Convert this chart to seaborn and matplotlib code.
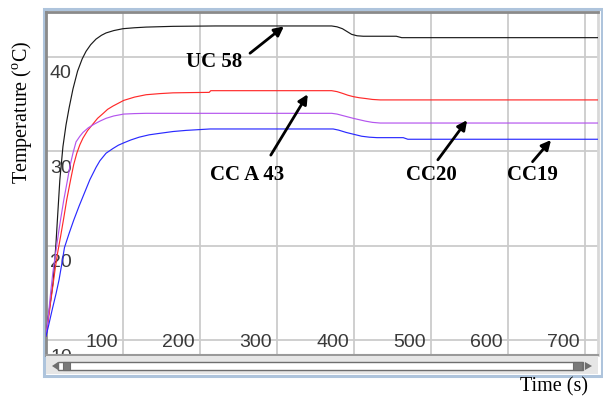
import numpy as np
import pandas as pd
import matplotlib
matplotlib.use("Agg")
import matplotlib.pyplot as plt
import matplotlib.transforms as mtransforms
from matplotlib.patches import Rectangle, Polygon
import seaborn as sns

# ---------------- data ----------------
t_uc58 = [0, 1, 3, 6, 9, 11, 13, 15, 18, 22, 26, 30, 35, 41, 47, 52, 58, 65, 72, 78, 88, 100, 115, 130,
          165, 220, 371, 378, 385, 391, 397, 404, 412, 455, 462, 717]
uc58 = [10.4, 11.0, 12.5, 14.2, 16.0, 18.0, 20.3, 23.0, 27.0, 30.5, 32.8, 34.6, 36.6, 38.5, 39.8, 40.6,
        41.3, 41.9, 42.3, 42.55, 42.8, 43.0, 43.1, 43.17, 43.25, 43.29, 43.29, 43.2, 43.0, 42.7, 42.4,
        42.25, 42.2, 42.2, 42.05, 42.05]

t_cca43 = [0, 3, 6, 9, 12, 15, 19, 23, 27, 32, 36, 40, 44, 48, 54, 61, 67, 74, 80, 87, 94, 101, 115,
           130, 148, 165, 190, 212, 214, 371, 378, 385, 392, 399, 407, 415, 424, 434, 717]
cca43 = [10.4, 12.1, 14.0, 15.8, 17.6, 19.2, 21.0, 22.9, 24.9, 27.0, 28.6, 29.8, 30.7, 31.4, 32.2, 32.9,
         33.5, 34.0, 34.45, 34.8, 35.1, 35.4, 35.75, 36.0, 36.12, 36.2, 36.23, 36.25, 36.43, 36.43,
         36.33, 36.15, 35.95, 35.8, 35.68, 35.6, 35.5, 35.45, 35.45]

t_cc20 = [0, 3, 6, 9, 13, 16, 19, 23, 28, 31, 35, 39, 44, 48, 55, 63, 70, 78, 88, 101, 115, 130, 371,
          378, 385, 392, 399, 407, 415, 424, 434, 717]
cc20 = [10.4, 12.5, 15.0, 17.2, 19.5, 21.2, 22.8, 24.8, 27.0, 28.4, 29.8, 31.0, 31.6, 32.0, 32.5, 32.9,
        33.2, 33.5, 33.75, 33.95, 34.0, 34.03, 34.03, 33.95, 33.8, 33.65, 33.5, 33.35, 33.2, 33.07,
        33.0, 33.0]

t_cc19 = [0, 3, 8, 13, 17, 21, 24, 30, 36, 43, 49, 57, 65, 70, 78, 87, 94, 101, 110, 121, 134, 147,
          165, 182, 213, 373, 380, 390, 400, 410, 420, 430, 464, 470, 717]
cc19 = [10.4, 11.4, 13.2, 14.9, 16.4, 18.3, 19.8, 21.3, 22.7, 24.2, 25.4, 27.0, 28.3, 29.0, 29.8, 30.3,
        30.65, 30.9, 31.2, 31.5, 31.75, 31.9, 32.1, 32.22, 32.37, 32.37, 32.25, 32.0, 31.8, 31.6, 31.5,
        31.45, 31.45, 31.28, 31.28]

series_names = ["UC 58", "CC A 43", "CC20", "CC19"]
series_colors = ["#1a1a1a", "#ff2a2a", "#b455ee", "#2a2aff"]

x_ticks = [100, 200, 300, 400, 500, 600, 700]
y_ticks = [10, 20, 30, 40]

# annotations: (label, text pos, arrow tail, arrow tip) in data units
ann_labels = ["UC 58", "CC A 43", "CC20", "CC19"]
ann_text = [(219, 39.5), (261, 27.5), (500, 27.5), (632, 27.45)]
ann_tail = [(265, 40.4), (292, 29.6), (509, 29.1), (632, 28.9)]
ann_tip = [(309, 43.25), (340, 36.05), (547, 33.3), (656, 31.2)]

# ---------------- build table ----------------
frames = []
for name, tt, vv in zip(series_names, [t_uc58, t_cca43, t_cc20, t_cc19], [uc58, cca43, cc20, cc19]):
    frames.append(pd.DataFrame({"Time": tt, "Temp": vv, "Series": name}))
df = pd.concat(frames, ignore_index=True)

sns.set_style("white")
plt.rcParams["font.family"] = ["Liberation Serif", "DejaVu Serif"]
plt.rcParams["mathtext.fontset"] = "custom"
plt.rcParams["mathtext.rm"] = "Liberation Serif"

W, H = 603, 397
fig = plt.figure(figsize=(W / 100, H / 100), dpi=100)

def fx(x):
    return x / W

def fy(y):
    return 1 - y / H

# outer light-blue frame
fig.add_artist(Rectangle((fx(43.5), fy(376)), fx(601.5) - fx(43.5), fy(8.5) - fy(376),
                         transform=fig.transFigure, fill=False, edgecolor="#aec4dc", lw=2.2, zorder=0))

ax = fig.add_axes([fx(46), fy(355), fx(598) - fx(46), fy(12) - fy(355)])

sns.lineplot(data=df, x="Time", y="Temp", hue="Series", hue_order=series_names,
             palette=series_colors, estimator=None, sort=False, legend=False,
             linewidth=0.85, ax=ax, zorder=3)

ax.set_xlim(0, 717)
ax.set_ylim(8.41, 44.77)
ax.set_xticks(x_ticks)
ax.set_yticks(y_ticks)
ax.set_xticklabels([])
ax.set_yticklabels([])
ax.tick_params(length=0)
ax.set_xlabel("")
ax.set_ylabel("")
ax.grid(True, color="#cbcbcb", lw=1.3, zorder=1)
ax.set_axisbelow(True)

ax.spines["top"].set_color("#8a8a8a")
ax.spines["top"].set_linewidth(2.0)
ax.spines["left"].set_color("#8a8a8a")
ax.spines["left"].set_linewidth(2.0)
ax.spines["right"].set_color("#d8d8d8")
ax.spines["right"].set_linewidth(2.0)
ax.spines["bottom"].set_color("#9a9a9a")
ax.spines["bottom"].set_linewidth(1.5)

tick_font = dict(family=["Liberation Sans", "DejaVu Sans"], size=14, color="#3a3a3a")

# x tick labels inside plot, right of gridline
xt = mtransforms.blended_transform_factory(ax.transData, ax.transAxes) + \
    mtransforms.ScaledTranslation(-5 / 100, 0, fig.dpi_scale_trans)
for t in x_ticks:
    ax.text(t, 8 / 343, str(t), transform=xt, ha="right", va="baseline",
            clip_on=True, zorder=2, **tick_font)

# y tick labels inside plot, below gridline
yt = mtransforms.blended_transform_factory(ax.transAxes, ax.transData) + \
    mtransforms.ScaledTranslation(0, -21.5 / 100, fig.dpi_scale_trans)
for v in y_ticks:
    ax.text(4 / 552, v, str(v), transform=yt, ha="left", va="baseline",
            clip_on=True, zorder=2, **tick_font)

# annotations
for lab, tp, tl, tip in zip(ann_labels, ann_text, ann_tail, ann_tip):
    ax.text(tp[0], tp[1], lab, ha="center", va="center", fontsize=15,
            fontweight="bold", color="black", zorder=5)
    ax.annotate("", xy=tip, xytext=tl,
                arrowprops=dict(arrowstyle="-|>", color="black", lw=2.0,
                                mutation_scale=14, shrinkA=0, shrinkB=0),
                zorder=5)

# axis titles
fig.text(fx(22), fy(112), r"Temperature ($^{\mathrm{o}}$C)", rotation=90,
         ha="center", va="center", fontsize=14.5, color="black")
fig.text(fx(554), fy(387), "Time (s)", ha="center", va="center",
         fontsize=14.5, color="black")

# scrollbar decoration
fig.add_artist(Rectangle((fx(46), fy(374)), fx(598) - fx(46), fy(356) - fy(374),
                         transform=fig.transFigure, facecolor="#e6e6e6", edgecolor="none", zorder=1))
fig.add_artist(Rectangle((fx(58), fy(370)), fx(583) - fx(58), fy(362) - fy(370),
                         transform=fig.transFigure, facecolor="white", edgecolor="#6e6e6e", lw=1.0, zorder=2))
fig.add_artist(Rectangle((fx(63), fy(370)), fx(70) - fx(63), fy(362) - fy(370),
                         transform=fig.transFigure, facecolor="#7a7a7a", edgecolor="#6e6e6e", lw=0.8, zorder=3))
fig.add_artist(Rectangle((fx(573), fy(370)), fx(582) - fx(573), fy(362) - fy(370),
                         transform=fig.transFigure, facecolor="#7a7a7a", edgecolor="#6e6e6e", lw=0.8, zorder=3))
fig.add_artist(Polygon([(fx(52), fy(366)), (fx(58), fy(362)), (fx(58), fy(370))],
                       closed=True, transform=fig.transFigure, facecolor="#6e6e6e", edgecolor="none", zorder=3))
fig.add_artist(Polygon([(fx(592), fy(366)), (fx(585), fy(362)), (fx(585), fy(370))],
                       closed=True, transform=fig.transFigure, facecolor="#6e6e6e", edgecolor="none", zorder=3))

fig.savefig("out.png", dpi=100)
